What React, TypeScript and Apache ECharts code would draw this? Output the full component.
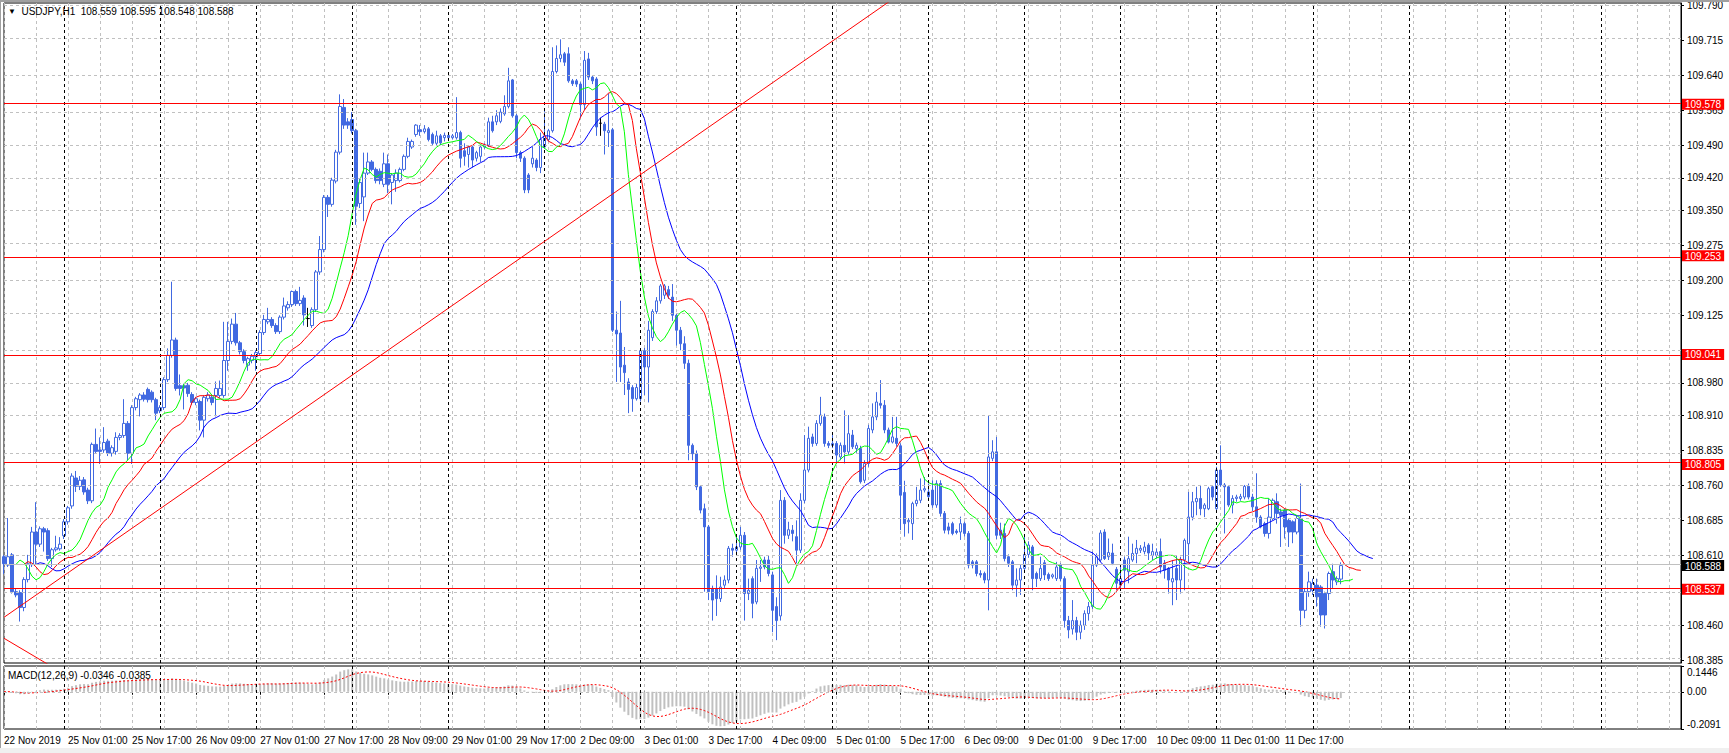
import React, { useEffect, useRef } from "react";
import * as echarts from "echarts";

// ---------- candles [open, close, low, high] by trading day (H1) ----------
const day22Nov = [
  [108.607, 108.592, 108.570, 108.611], [108.589, 108.607, 108.585, 108.690], [108.611, 108.532, 108.528, 108.615],
  [108.532, 108.525, 108.520, 108.538], [108.530, 108.498, 108.468, 108.535], [108.498, 108.558, 108.490, 108.563],
  [108.558, 108.592, 108.552, 108.611], [108.590, 108.660, 108.585, 108.671], [108.660, 108.634, 108.590, 108.724],
  [108.634, 108.667, 108.628, 108.672], [108.667, 108.660, 108.618, 108.671], [108.663, 108.603, 108.598, 108.668],
  [108.603, 108.622, 108.585, 108.626], [108.622, 108.626, 108.618, 108.652], [108.624, 108.634, 108.620, 108.649],
];
const day25Nov = [
  [108.652, 108.682, 108.645, 108.688], [108.682, 108.712, 108.676, 108.716], [108.716, 108.780, 108.710, 108.786],
  [108.776, 108.758, 108.746, 108.791], [108.758, 108.771, 108.750, 108.780], [108.772, 108.746, 108.740, 108.778],
  [108.750, 108.727, 108.720, 108.755], [108.727, 108.848, 108.722, 108.852], [108.848, 108.833, 108.828, 108.882],
  [108.836, 108.833, 108.806, 108.863], [108.836, 108.852, 108.830, 108.885], [108.855, 108.829, 108.823, 108.860],
  [108.829, 108.841, 108.822, 108.846], [108.833, 108.863, 108.826, 108.874], [108.863, 108.867, 108.857, 108.872],
  [108.867, 108.893, 108.862, 108.945], [108.893, 108.829, 108.814, 108.898], [108.829, 108.927, 108.806, 108.932],
  [108.927, 108.946, 108.921, 108.950], [108.944, 108.954, 108.908, 108.958], [108.954, 108.945, 108.940, 108.960],
  [108.966, 108.944, 108.938, 108.970], [108.960, 108.944, 108.938, 108.964], [108.944, 108.915, 108.900, 108.948],
];
const day26Nov = [
  [108.920, 108.927, 108.915, 108.932], [108.927, 108.987, 108.922, 108.992], [108.987, 109.039, 108.982, 109.054],
  [109.039, 109.072, 109.034, 109.197], [109.072, 108.968, 108.963, 109.077], [108.974, 108.968, 108.953, 108.998],
  [108.974, 108.969, 108.923, 108.978], [108.975, 108.957, 108.950, 108.980], [108.955, 108.938, 108.933, 108.960],
  [108.938, 108.946, 108.932, 108.950], [108.940, 108.900, 108.878, 108.944], [108.900, 108.949, 108.863, 108.953],
  [108.946, 108.954, 108.940, 108.960], [108.949, 108.938, 108.932, 108.954], [108.953, 108.968, 108.908, 108.983],
  [108.953, 108.968, 108.948, 108.985], [108.953, 109.028, 108.948, 109.111], [109.028, 109.069, 109.006, 109.111],
  [109.069, 109.106, 109.063, 109.118], [109.106, 109.066, 109.060, 109.130], [109.066, 109.047, 109.041, 109.070],
  [109.047, 109.028, 109.022, 109.052], [109.018, 109.032, 109.006, 109.036], [109.028, 109.037, 109.022, 109.042],
];
const day27Nov = [
  [109.036, 109.045, 109.006, 109.050], [109.043, 109.088, 109.038, 109.093], [109.088, 109.116, 109.083, 109.126],
  [109.111, 109.116, 109.106, 109.141], [109.116, 109.103, 109.098, 109.121], [109.103, 109.090, 109.085, 109.108],
  [109.090, 109.121, 109.085, 109.125], [109.121, 109.145, 109.116, 109.163], [109.141, 109.148, 109.135, 109.155],
  [109.148, 109.176, 109.143, 109.178], [109.176, 109.150, 109.145, 109.180], [109.150, 109.157, 109.145, 109.186],
  [109.162, 109.126, 109.103, 109.168], [109.118, 109.118, 109.100, 109.141], [109.103, 109.137, 109.098, 109.142],
  [109.137, 109.218, 109.132, 109.222], [109.218, 109.266, 109.212, 109.295], [109.266, 109.378, 109.260, 109.383],
  [109.378, 109.363, 109.336, 109.383], [109.363, 109.415, 109.358, 109.420], [109.413, 109.475, 109.408, 109.480],
  [109.475, 109.573, 109.470, 109.599], [109.571, 109.533, 109.525, 109.589], [109.540, 109.533, 109.525, 109.548],
];
const day28Nov = [
  [109.545, 109.521, 109.515, 109.561], [109.521, 109.359, 109.319, 109.525], [109.365, 109.410, 109.355, 109.418],
  [109.379, 109.430, 109.327, 109.474], [109.430, 109.454, 109.426, 109.474], [109.454, 109.438, 109.434, 109.458],
  [109.438, 109.414, 109.408, 109.442], [109.434, 109.414, 109.406, 109.440], [109.406, 109.450, 109.400, 109.474],
  [109.450, 109.406, 109.387, 109.470], [109.410, 109.426, 109.363, 109.430], [109.414, 109.430, 109.390, 109.438],
  [109.414, 109.438, 109.410, 109.442], [109.438, 109.466, 109.434, 109.470], [109.466, 109.498, 109.462, 109.506],
  [109.486, 109.498, 109.482, 109.502], [109.513, 109.533, 109.508, 109.535], [109.523, 109.519, 109.510, 109.533],
  [109.519, 109.525, 109.515, 109.533], [109.525, 109.502, 109.498, 109.529], [109.513, 109.494, 109.490, 109.517],
  [109.494, 109.510, 109.490, 109.521], [109.510, 109.495, 109.490, 109.514], [109.506, 109.511, 109.498, 109.517],
];
const day29Nov = [
  [109.511, 109.506, 109.500, 109.515], [109.506, 109.510, 109.502, 109.514], [109.506, 109.517, 109.502, 109.593],
  [109.517, 109.462, 109.442, 109.521], [109.478, 109.466, 109.446, 109.494], [109.470, 109.486, 109.442, 109.490],
  [109.486, 109.458, 109.442, 109.490], [109.462, 109.474, 109.455, 109.478], [109.466, 109.486, 109.454, 109.490],
  [109.486, 109.490, 109.482, 109.494], [109.490, 109.540, 109.486, 109.549], [109.540, 109.521, 109.517, 109.553],
  [109.540, 109.553, 109.533, 109.565], [109.541, 109.561, 109.537, 109.569], [109.557, 109.573, 109.553, 109.597],
  [109.573, 109.628, 109.569, 109.656], [109.630, 109.553, 109.549, 109.632], [109.553, 109.474, 109.462, 109.557],
  [109.474, 109.462, 109.454, 109.478], [109.462, 109.394, 109.387, 109.466], [109.426, 109.394, 109.387, 109.430],
  [109.450, 109.462, 109.442, 109.486], [109.458, 109.442, 109.434, 109.462], [109.442, 109.502, 109.430, 109.517],
];
const day2Dec = [
  [109.486, 109.510, 109.482, 109.564], [109.502, 109.521, 109.498, 109.525], [109.521, 109.648, 109.517, 109.700],
  [109.648, 109.676, 109.644, 109.704], [109.676, 109.684, 109.668, 109.717], [109.686, 109.668, 109.660, 109.690],
  [109.686, 109.628, 109.624, 109.700], [109.628, 109.622, 109.617, 109.632], [109.628, 109.621, 109.615, 109.632],
  [109.621, 109.577, 109.549, 109.625], [109.577, 109.672, 109.565, 109.692], [109.675, 109.636, 109.630, 109.688],
  [109.636, 109.628, 109.621, 109.640], [109.632, 109.529, 109.510, 109.636], [109.537, 109.537, 109.510, 109.549],
  [109.535, 109.521, 109.470, 109.540], [109.517, 109.521, 109.486, 109.601], [109.523, 109.093, 109.089, 109.527],
  [109.093, 109.085, 108.982, 109.133], [109.087, 109.014, 108.982, 109.156], [109.018, 109.002, 108.954, 109.057],
  [108.982, 108.966, 108.915, 108.990], [108.970, 108.946, 108.918, 108.975], [108.946, 108.970, 108.942, 108.978],
];
const day3Dec = [
  [108.946, 109.049, 108.940, 109.052], [109.049, 109.014, 108.954, 109.055], [109.014, 109.093, 108.938, 109.113],
  [109.077, 109.133, 109.070, 109.138], [109.133, 109.156, 109.128, 109.164], [109.156, 109.188, 109.150, 109.192],
  [109.168, 109.188, 109.160, 109.192], [109.180, 109.168, 109.160, 109.188], [109.164, 109.125, 109.113, 109.192],
  [109.125, 109.093, 109.060, 109.130], [109.093, 109.064, 109.050, 109.100], [109.064, 109.022, 109.010, 109.080],
  [109.022, 108.846, 108.814, 109.030], [108.846, 108.828, 108.814, 108.850], [108.828, 108.757, 108.750, 108.835],
  [108.757, 108.707, 108.700, 108.760], [108.710, 108.671, 108.532, 108.721], [108.671, 108.532, 108.514, 108.675],
  [108.539, 108.514, 108.470, 108.545], [108.539, 108.517, 108.480, 108.567], [108.517, 108.542, 108.510, 108.564],
  [108.546, 108.557, 108.540, 108.567], [108.557, 108.625, 108.550, 108.630], [108.625, 108.621, 108.607, 108.635],
];
const day4Dec = [
  [108.621, 108.628, 108.615, 108.650], [108.628, 108.653, 108.622, 108.671], [108.653, 108.528, 108.470, 108.660],
  [108.528, 108.535, 108.514, 108.560], [108.560, 108.507, 108.475, 108.565], [108.510, 108.582, 108.505, 108.600],
  [108.582, 108.585, 108.553, 108.600], [108.600, 108.585, 108.580, 108.607], [108.600, 108.571, 108.565, 108.610],
  [108.568, 108.492, 108.445, 108.575], [108.500, 108.470, 108.428, 108.520], [108.480, 108.728, 108.470, 108.750],
  [108.728, 108.653, 108.635, 108.735], [108.653, 108.665, 108.645, 108.682], [108.664, 108.657, 108.640, 108.675],
  [108.650, 108.621, 108.593, 108.685], [108.621, 108.728, 108.615, 108.743], [108.728, 108.793, 108.722, 108.868],
  [108.793, 108.861, 108.788, 108.886], [108.864, 108.850, 108.843, 108.871], [108.850, 108.893, 108.845, 108.900],
  [108.893, 108.911, 108.888, 108.950], [108.907, 108.850, 108.843, 108.914], [108.850, 108.846, 108.840, 108.855],
];
const day5Dec = [
  [108.846, 108.850, 108.840, 108.868], [108.850, 108.825, 108.807, 108.855], [108.821, 108.846, 108.814, 108.852],
  [108.846, 108.832, 108.807, 108.921], [108.832, 108.871, 108.826, 108.911], [108.868, 108.843, 108.838, 108.879],
  [108.839, 108.846, 108.830, 108.852], [108.839, 108.768, 108.764, 108.845], [108.771, 108.807, 108.765, 108.814],
  [108.807, 108.882, 108.800, 108.890], [108.879, 108.907, 108.872, 108.936], [108.907, 108.939, 108.900, 108.960],
  [108.936, 108.932, 108.925, 108.986], [108.932, 108.879, 108.872, 108.943], [108.879, 108.853, 108.850, 108.884],
  [108.853, 108.864, 108.850, 108.907], [108.861, 108.850, 108.843, 108.907], [108.845, 108.739, 108.664, 108.850],
  [108.745, 108.678, 108.650, 108.770], [108.682, 108.685, 108.657, 108.690], [108.678, 108.721, 108.643, 108.725],
  [108.721, 108.728, 108.715, 108.757], [108.728, 108.750, 108.722, 108.775], [108.750, 108.753, 108.745, 108.778],
];
const day6Dec = [
  [108.746, 108.736, 108.728, 108.764], [108.750, 108.718, 108.712, 108.771], [108.718, 108.764, 108.712, 108.771],
  [108.764, 108.700, 108.693, 108.771], [108.700, 108.664, 108.657, 108.705], [108.671, 108.664, 108.655, 108.680],
  [108.678, 108.657, 108.653, 108.682], [108.662, 108.659, 108.655, 108.666], [108.660, 108.678, 108.643, 108.693],
  [108.678, 108.657, 108.650, 108.682], [108.657, 108.589, 108.582, 108.662], [108.596, 108.589, 108.582, 108.600],
  [108.596, 108.571, 108.565, 108.600], [108.571, 108.568, 108.562, 108.578], [108.571, 108.557, 108.550, 108.575],
  [108.557, 108.821, 108.492, 108.910], [108.818, 108.832, 108.812, 108.857], [108.832, 108.653, 108.645, 108.864],
  [108.664, 108.653, 108.645, 108.680], [108.657, 108.603, 108.597, 108.678], [108.607, 108.593, 108.585, 108.612],
  [108.596, 108.546, 108.535, 108.600], [108.546, 108.557, 108.521, 108.582], [108.557, 108.582, 108.525, 108.590],
];
const day9Dec = [
  [108.582, 108.612, 108.578, 108.650], [108.612, 108.632, 108.605, 108.640], [108.628, 108.560, 108.535, 108.632],
  [108.571, 108.560, 108.542, 108.575], [108.560, 108.582, 108.555, 108.607], [108.594, 108.568, 108.557, 108.600],
  [108.569, 108.560, 108.555, 108.573], [108.564, 108.568, 108.560, 108.571], [108.560, 108.585, 108.555, 108.596],
  [108.589, 108.560, 108.555, 108.593], [108.560, 108.470, 108.455, 108.565], [108.470, 108.450, 108.432, 108.480],
  [108.452, 108.470, 108.440, 108.514], [108.470, 108.445, 108.428, 108.478], [108.445, 108.460, 108.430, 108.470],
  [108.460, 108.485, 108.450, 108.492], [108.485, 108.500, 108.470, 108.510], [108.500, 108.589, 108.495, 108.618],
  [108.589, 108.607, 108.585, 108.614], [108.600, 108.658, 108.596, 108.664], [108.660, 108.603, 108.600, 108.666],
  [108.607, 108.616, 108.600, 108.646], [108.615, 108.593, 108.589, 108.635], [108.580, 108.550, 108.535, 108.585],
];
const day10Dec = [
  [108.546, 108.560, 108.540, 108.589], [108.600, 108.578, 108.539, 108.607], [108.575, 108.603, 108.550, 108.650],
  [108.600, 108.614, 108.596, 108.635], [108.614, 108.625, 108.593, 108.643], [108.621, 108.625, 108.615, 108.632],
  [108.618, 108.628, 108.612, 108.639], [108.632, 108.615, 108.600, 108.636], [108.610, 108.618, 108.600, 108.635],
  [108.610, 108.617, 108.603, 108.625], [108.618, 108.585, 108.571, 108.646], [108.593, 108.578, 108.560, 108.600],
  [108.582, 108.557, 108.528, 108.585], [108.553, 108.560, 108.503, 108.600], [108.582, 108.557, 108.514, 108.610],
  [108.557, 108.600, 108.528, 108.607], [108.600, 108.642, 108.535, 108.646], [108.635, 108.692, 108.595, 108.746],
  [108.692, 108.725, 108.685, 108.746], [108.725, 108.732, 108.696, 108.757], [108.732, 108.710, 108.696, 108.761],
  [108.710, 108.718, 108.692, 108.722], [108.710, 108.753, 108.707, 108.757], [108.757, 108.735, 108.728, 108.760],
];
const day11Dec = [
  [108.710, 108.793, 108.707, 108.800], [108.793, 108.761, 108.757, 108.846], [108.761, 108.757, 108.657, 108.765],
  [108.757, 108.718, 108.714, 108.760], [108.718, 108.732, 108.700, 108.739], [108.732, 108.735, 108.725, 108.740],
  [108.732, 108.736, 108.727, 108.742], [108.735, 108.758, 108.730, 108.761], [108.758, 108.735, 108.730, 108.764],
  [108.735, 108.714, 108.705, 108.742], [108.714, 108.692, 108.680, 108.786], [108.692, 108.671, 108.668, 108.696],
  [108.678, 108.657, 108.650, 108.682], [108.657, 108.692, 108.646, 108.732], [108.689, 108.728, 108.685, 108.732],
  [108.725, 108.700, 108.678, 108.743], [108.703, 108.696, 108.628, 108.710], [108.707, 108.671, 108.646, 108.710],
  [108.685, 108.660, 108.628, 108.690], [108.682, 108.660, 108.636, 108.685], [108.660, 108.689, 108.655, 108.696],
  [108.689, 108.492, 108.457, 108.764], [108.492, 108.532, 108.475, 108.540], [108.532, 108.553, 108.521, 108.575],
];
const day12Dec = [
  [108.535, 108.550, 108.525, 108.560], [108.546, 108.521, 108.500, 108.560], [108.542, 108.482, 108.457, 108.546],
  [108.528, 108.482, 108.453, 108.532], [108.528, 108.571, 108.514, 108.575], [108.575, 108.557, 108.540, 108.592],
  [108.553, 108.560, 108.546, 108.565], [108.559, 108.588, 108.548, 108.595],
];

// trading sessions [day, first hour, last hour] and the projected (empty) time slots to the right
const sessions: [string, number, number][] = [
  ["22 Nov", 9, 23], ["25 Nov", 0, 23], ["26 Nov", 0, 23], ["27 Nov", 0, 23], ["28 Nov", 0, 23], ["29 Nov", 0, 23],
  ["2 Dec", 0, 23], ["3 Dec", 0, 23], ["4 Dec", 0, 23], ["5 Dec", 0, 23], ["6 Dec", 0, 23],
  ["9 Dec", 0, 23], ["10 Dec", 0, 23], ["11 Dec", 0, 23], ["12 Dec", 0, 7],
];
const futureSessions: [string, number, number][] = [["12 Dec", 8, 23], ["13 Dec", 0, 23], ["14 Dec", 0, 23], ["15 Dec", 0, 20]];
const firstLabel = "22 Nov 2019";

// price axis ticks (labels for ticks hidden under the level tags are not shown), levels and tags
const priceTicks = [109.79, 109.715, 109.64, 109.565, 109.49, 109.42, 109.35, 109.275, 109.2, 109.125, 109.05,
  108.98, 108.91, 108.835, 108.76, 108.685, 108.61, 108.535, 108.46, 108.385];
const priceTickLabels = [109.79, 109.715, 109.64, 109.565, 109.49, 109.42, 109.35, 109.275, 109.2, 109.125,
  108.98, 108.91, 108.835, 108.76, 108.685, 108.61, 108.46, 108.385];
const priceRange = [108.379, 109.795];
const levelLines = [109.578, 109.253, 109.041, 108.805, 108.537];
const bidPrice = 108.588;
const macdTicks = [0.1446, 0, -0.2091];
const trendLines = [
  [[0, 108.477], [222, 109.803]],
  [[0, 108.432], [12, 108.371]],
];
const headerText = "USDJPY,H1  108.559 108.595 108.548 108.588";
const macdText = "MACD(12,26,9) -0.0346 -0.0385";

// ---------- derived ----------
const ohlc = [day22Nov, day25Nov, day26Nov, day27Nov, day28Nov, day29Nov, day2Dec, day3Dec, day4Dec, day5Dec,
  day6Dec, day9Dec, day10Dec, day11Dec, day12Dec].flat();

const pad2 = (n: number) => (n < 10 ? "0" + n : "" + n);
const categories: string[] = [];
[...sessions, ...futureSessions].forEach(([d, a, b]) => {
  for (let h = a; h <= b; h++) categories.push(`${d} ${pad2(h)}:00`);
});
const N = categories.length;
const separators = categories.map((c, i) => (c.endsWith(" 00:00") ? i : -1)).filter((i) => i >= 0);

function smma(src: number[], n: number) {
  const out: number[] = [];
  let s = src[0];
  src.forEach((v, i) => {
    s = i === 0 ? v : (s * (n - 1) + v) / n;
    out.push(s);
  });
  return out;
}
function shifted(vals: number[], shift: number) {
  const arr: (number | null)[] = new Array(N).fill(null);
  vals.forEach((v, i) => {
    if (i + shift < N) arr[i + shift] = +v.toFixed(4);
  });
  return arr;
}
function ema(src: number[], n: number) {
  const k = 2 / (n + 1);
  const out: number[] = [];
  let e = src[0];
  src.forEach((v, i) => {
    e = i === 0 ? v : v * k + e * (1 - k);
    out.push(e);
  });
  return out;
}

const median = ohlc.map((d) => (d[2] + d[3]) / 2);
const closes = ohlc.map((d) => d[1]);
const jaw = shifted(smma(median, 13), 8);
const teeth = shifted(smma(median, 8), 5);
const lips = shifted(smma(median, 5), 3);
const e12 = ema(closes, 12);
const e26 = ema(closes, 26);
const macd = closes.map((_, i) => e12[i] - e26[i]);
const signal = macd.map((_, i) => {
  const s = macd.slice(Math.max(0, i - 8), i + 1);
  return s.reduce((a, b) => a + b, 0) / s.length;
});

const FONT = '"Liberation Sans", Arial, sans-serif';
const CANDLE = "#4169E1";

export default function App() {
  const ref = useRef<HTMLDivElement>(null);
  useEffect(() => {
    if (!ref.current) return;
    const chart = echarts.init(ref.current, undefined, { renderer: "svg" });
    const candleData = ohlc.map((d) =>
      d[0] === d[1]
        ? { value: d, itemStyle: { color: "#000", color0: "#000", borderColor: "#000", borderColor0: "#000" } }
        : d
    );
    const gridStyle = { color: "#c0c0c0", type: [3, 3], width: 1 };
    const sepLine = {
      silent: true,
      symbol: ["none", "none"],
      label: { show: false },
      lineStyle: { color: "#000", type: [3, 3], width: 1 },
      data: separators.map((i) => ({ xAxis: i })),
    };
    const labelInterval = (i: number) => i % 16 === 0 && i <= 320;
    const option: any = {
      animation: false,
      backgroundColor: "#ffffff",
      textStyle: { fontFamily: FONT },
      title: [
        {
          text: "{t|▼}  " + headerText,
          left: 8, top: 6, padding: 0,
          textStyle: {
            fontSize: 10, fontWeight: "normal", color: "#000", fontFamily: FONT,
            rich: { t: { fontSize: 8, color: "#000" } },
          },
        },
        {
          text: macdText,
          left: 8, top: 670, padding: 0,
          textStyle: { fontSize: 10, fontWeight: "normal", color: "#000", fontFamily: FONT },
        },
      ],
      grid: [
        { left: 4, top: 3, width: 1677, height: 660, show: true, borderColor: "#000", borderWidth: 1, backgroundColor: "#fff" },
        { left: 4, top: 666, width: 1677, height: 63, show: true, borderColor: "#000", borderWidth: 1, backgroundColor: "#fff" },
      ],
      xAxis: [
        {
          type: "category", gridIndex: 0, data: categories, boundaryGap: false,
          axisLine: { show: false }, axisTick: { show: false }, axisLabel: { show: false },
          splitLine: { show: true, interval: (i: number) => i % 8 === 0, lineStyle: gridStyle },
        },
        {
          type: "category", gridIndex: 1, data: categories, boundaryGap: false,
          axisLine: { show: false },
          axisTick: { show: true, interval: labelInterval, length: 3, lineStyle: { color: "#000" } },
          axisLabel: {
            interval: labelInterval, align: "left", fontSize: 10, color: "#000", margin: 6, fontFamily: FONT,
            formatter: (v: string, i: number) => (i === 0 ? firstLabel : v),
          },
          splitLine: { show: true, interval: (i: number) => i % 8 === 0, lineStyle: gridStyle },
        },
      ],
      yAxis: [
        {
          type: "value", gridIndex: 0, position: "right", min: priceRange[0], max: priceRange[1],
          splitLine: { show: false },
          axisLine: { show: true, lineStyle: { color: "#000" } },
          axisTick: { show: true, customValues: priceTicks, length: 3, lineStyle: { color: "#000" } },
          axisLabel: {
            customValues: priceTickLabels, fontSize: 10, color: "#000", margin: 6, fontFamily: FONT,
            formatter: (v: number) => v.toFixed(3),
          },
        },
        {
          type: "value", gridIndex: 0, position: "right", min: priceRange[0], max: priceRange[1], z: 10,
          splitLine: { show: false }, axisLine: { show: false }, axisTick: { show: false },
          axisLabel: {
            customValues: [...levelLines, bidPrice], margin: 1, fontSize: 10, fontFamily: FONT,
            formatter: (v: number) => (Math.abs(v - bidPrice) < 1e-6 ? `{k|${v.toFixed(3)}}` : `{r|${v.toFixed(3)}}`),
            rich: {
              r: { backgroundColor: "#ff0000", color: "#fff", fontSize: 10, lineHeight: 10, padding: [1, 3, 0, 3], fontFamily: FONT },
              k: { backgroundColor: "#000000", color: "#fff", fontSize: 10, lineHeight: 10, padding: [1, 3, 0, 3], fontFamily: FONT },
            },
          },
        },
        {
          type: "value", gridIndex: 1, position: "right", min: macdTicks[2], max: macdTicks[0],
          splitLine: { show: false },
          axisLine: { show: true, lineStyle: { color: "#000" } },
          axisTick: { show: true, customValues: macdTicks, length: 3, lineStyle: { color: "#000" } },
          axisLabel: {
            customValues: macdTicks, fontSize: 10, color: "#000", margin: 6, fontFamily: FONT,
            formatter: (v: number) =>
              Math.abs(v) < 1e-9 ? "{m|0.00}" : v > 0 ? `{t|${v.toFixed(4)}}` : `{b|${v.toFixed(4)}}`,
            rich: {
              m: { fontSize: 10, fontFamily: FONT, color: "#000" },
              t: { fontSize: 10, fontFamily: FONT, color: "#000", padding: [12, 0, 0, 0] },
              b: { fontSize: 10, fontFamily: FONT, color: "#000", padding: [0, 0, 10, 0] },
            },
          },
        },
      ],
      series: [
        {
          type: "line", xAxisIndex: 0, yAxisIndex: 0, data: [], silent: true, z: 1,
          markLine: {
            silent: true, symbol: ["none", "none"], label: { show: false }, lineStyle: gridStyle,
            data: priceTicks.map((v) => ({ yAxis: v })),
          },
        },
        { type: "line", xAxisIndex: 0, yAxisIndex: 0, data: [], silent: true, z: 1, markLine: sepLine },
        {
          type: "candlestick", xAxisIndex: 0, yAxisIndex: 0, data: candleData, barWidth: 3, z: 3,
          itemStyle: { color: "#ffffff", color0: CANDLE, borderColor: CANDLE, borderColor0: CANDLE, borderWidth: 1 },
        },
        { type: "line", xAxisIndex: 0, yAxisIndex: 0, data: jaw, symbol: "none", z: 4, lineStyle: { color: "#0000ff", width: 1 } },
        { type: "line", xAxisIndex: 0, yAxisIndex: 0, data: teeth, symbol: "none", z: 4, lineStyle: { color: "#ff0000", width: 1 } },
        { type: "line", xAxisIndex: 0, yAxisIndex: 0, data: lips, symbol: "none", z: 4, lineStyle: { color: "#00ff00", width: 1 } },
        ...trendLines.map((t) => ({
          type: "line", xAxisIndex: 0, yAxisIndex: 0, data: t, symbol: "none", z: 5,
          lineStyle: { color: "#ff0000", width: 1 },
        })),
        {
          type: "line", xAxisIndex: 0, yAxisIndex: 0, data: [], silent: true, z: 5,
          markLine: {
            silent: true, symbol: ["none", "none"], label: { show: false },
            data: [
              { yAxis: bidPrice, lineStyle: { color: "#c0c0c0", type: "solid", width: 1 } },
              ...levelLines.map((v) => ({ yAxis: v, lineStyle: { color: "#ff0000", type: "solid", width: 1 } })),
            ],
          },
        },
        {
          type: "line", xAxisIndex: 1, yAxisIndex: 2, data: [], silent: true, z: 1,
          markLine: {
            silent: true, symbol: ["none", "none"], label: { show: false }, lineStyle: gridStyle,
            data: [{ yAxis: 0 }],
          },
        },
        { type: "line", xAxisIndex: 1, yAxisIndex: 2, data: [], silent: true, z: 1, markLine: sepLine },
        {
          type: "bar", xAxisIndex: 1, yAxisIndex: 2, data: macd.map((v) => +v.toFixed(5)), barWidth: 2, z: 3,
          itemStyle: { color: "#c0c0c0" },
        },
        {
          type: "line", xAxisIndex: 1, yAxisIndex: 2, data: signal.map((v) => +v.toFixed(5)), symbol: "none", z: 4,
          lineStyle: { color: "#ff0000", width: 1, type: [2, 2] },
        },
      ],
    };
    chart.setOption(option);
    return () => chart.dispose();
  }, []);
  return (
    <div style={{ position: "fixed", left: 0, top: 0, width: 1729, height: 753, background: "#f0f0f0" }}>
      <div ref={ref} style={{ position: "absolute", left: 0, top: 0, width: 1729, height: 748 }} />
      <div style={{ position: "absolute", left: 0, top: 0, width: 1729, height: 2, background: "#a0a0a0" }} />
      <div style={{ position: "absolute", left: 0, top: 0, width: 1, height: 748, background: "#a0a0a0" }} />
    </div>
  );
}
